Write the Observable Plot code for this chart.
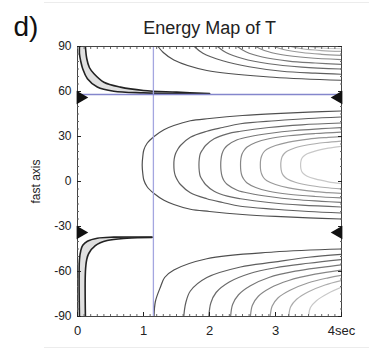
<!DOCTYPE html>
<html>
<head>
<meta charset="utf-8">
<script src="https://cdn.jsdelivr.net/npm/d3@7"></script>
<script src="https://cdn.jsdelivr.net/npm/@observablehq/plot@0.6"></script>
<style>
  html, body { margin: 0; padding: 0; background: #fff; }
  #chart { position: relative; width: 369px; height: 350px; font-family: "Liberation Sans", Arial, sans-serif; }
  #chart .edge { position: absolute; left: 44px; right: 0; height: 0; border-top: 1px solid #ececec; }
  #chart svg { position: absolute; left: 0; top: 0; }
</style>
</head>
<body>
<div id="chart"><div class="edge" style="top:2px"></div><div class="edge" style="top:347px"></div></div>
<script>
// Energy map of the splitting parameters: delay time (sec) vs fast-axis azimuth (deg).
// Each contour is a list of [delay, azimuth] points.

// Contours around the energy minimum (outer to inner)
const middleSet = [
  [[4,47],[3.5,46.2],[3,45.3],[2.5,44],[2,42],[1.71,40.5],[1.46,37.3],[1.31,34.5],[1.16,30],[1.055,25.5],[1.005,21],[0.99,17],[0.98,11],[0.99,5],[1.005,1],[1.055,-3.5],[1.16,-8],[1.31,-12.5],[1.46,-15.3],[1.71,-18.5],[2,-20],[2.5,-22],[3,-23.3],[3.5,-24.2],[4,-25]],
  [[4,43],[3.5,42],[3,40.5],[2.47,38.5],[2.2,36],[1.96,33.5],[1.71,29.5],[1.56,24],[1.52,21.5],[1.485,18.5],[1.465,15],[1.46,11],[1.465,7],[1.485,3.5],[1.52,0.5],[1.56,-2],[1.71,-7.5],[1.96,-11.5],[2.2,-14],[2.47,-16.5],[3,-18.5],[3.5,-20],[4,-21]],
  [[4,39],[3.4,37.8],[2.9,36],[2.47,33.5],[2.27,31.8],[2.07,28.5],[1.94,24],[1.9,21.5],[1.86,18.5],[1.845,15],[1.84,11],[1.845,7],[1.86,3.5],[1.9,0.5],[1.94,-2],[2.07,-6.5],[2.27,-9.8],[2.47,-11.5],[2.9,-14],[3.4,-15.8],[4,-17]],
  [[4,36],[3.7,35.2],[3.3,34],[2.9,32],[2.62,30],[2.42,27.8],[2.27,24],[2.22,21.5],[2.19,18.5],[2.175,15],[2.17,11],[2.175,7],[2.19,3.5],[2.22,0.5],[2.27,-2],[2.42,-5.8],[2.62,-8],[2.9,-10],[3.3,-12],[3.7,-13.2],[4,-14]],
  [[4,33],[3.6,32],[3.2,30.5],[2.9,28.5],[2.7,26],[2.57,23],[2.52,20.5],[2.49,18],[2.475,15],[2.47,11],[2.475,7],[2.49,4],[2.52,1.5],[2.57,-1],[2.7,-4],[2.9,-6.5],[3.2,-8.5],[3.6,-10],[4,-11]],
  [[4,30],[3.8,29.4],[3.5,28.3],[3.2,26.3],[3.0,24],[2.87,21.5],[2.82,19.5],[2.79,17],[2.775,14.5],[2.77,11],[2.775,7.5],[2.79,5],[2.82,2.5],[2.87,0.5],[3.0,-2],[3.2,-4.3],[3.5,-6.3],[3.8,-7.4],[4,-8]],
  [[4,27],[3.75,26],[3.5,24.5],[3.3,22.5],[3.18,20.3],[3.13,18.5],[3.1,16.5],[3.085,14],[3.08,11],[3.085,8],[3.1,5.5],[3.13,3.5],[3.18,1.7],[3.3,-0.5],[3.5,-2.5],[3.75,-4],[4,-5]],
  [[4,23.5],[3.8,22.2],[3.6,20.3],[3.48,18.5],[3.43,17],[3.4,15.5],[3.385,13.5],[3.38,11],[3.385,8.5],[3.4,6.5],[3.43,5],[3.48,3.5],[3.6,1.7],[3.8,-0.2],[4,-1.5]]
];

// Contours rising from the lower edge
const bottomSet = [
  [[1.16,-90],[1.18,-80],[1.26,-70],[1.32,-64],[1.46,-59],[1.96,-51.5],[2.97,-47],[4,-45]],
  [[1.61,-90],[1.64,-81],[1.71,-73],[1.96,-64],[2.47,-57],[2.97,-53.8],[3.5,-50.5],[4,-48.5]],
  [[1.99,-90],[2.02,-81],[2.1,-74],[2.3,-67],[2.6,-61.5],[3.0,-57.5],[3.5,-54.5],[4,-52]],
  [[2.32,-90],[2.35,-82],[2.44,-75.5],[2.62,-69.5],[2.9,-64],[3.3,-59.8],[3.7,-57.2],[4,-55.5]],
  [[2.62,-90],[2.65,-82.5],[2.74,-76.5],[2.92,-71],[3.2,-66],[3.6,-61.8],[4,-59]],
  [[2.92,-90],[2.95,-83],[3.04,-77.5],[3.22,-72.5],[3.5,-67.5],[3.8,-64.2],[4,-62.5]],
  [[3.2,-90],[3.23,-83.5],[3.32,-78.5],[3.5,-73.5],[3.75,-69],[4,-66]],
  [[3.5,-90],[3.53,-84],[3.62,-79.5],[3.8,-74.5],[4,-70.5]]
];

// Contours falling from the upper edge (the same basin, wrapped by 180 deg)
const topSet = [
  [[1.22,90],[1.3,86],[1.46,81],[1.96,74],[2.97,69.5],[4,67.5]],
  [[1.77,90],[1.9,85.5],[2.2,80.5],[2.6,76.5],[3.1,73.5],[3.6,72.2],[4,71.5]],
  [[2.12,90],[2.25,86],[2.5,82],[2.9,78.5],[3.4,76.3],[4,75]],
  [[2.42,90],[2.55,86.5],[2.8,83],[3.2,80.3],[3.6,79],[4,78]],
  [[2.7,90],[2.83,87.3],[3.1,84.5],[3.5,82.5],[4,81.3]],
  [[2.97,90],[3.12,88],[3.4,86],[3.7,84.8],[4,84]],
  [[3.23,90],[3.4,88.5],[3.7,87.3],[4,86.7]],
  [[3.48,90],[3.7,89],[4,88.5]]
];

// Confidence band near zero delay (upper): outer and inner boundary
const bandTopOuter = [[0.03,90],[0.03,85],[0.05,80],[0.08,75],[0.15,68.5],[0.3,63],[0.55,60.2],[1.0,59.1],[1.5,58.6],[2.0,58.5]];
const bandTopInner = [[0.12,90],[0.14,82],[0.18,76],[0.25,71.8],[0.4,66.2],[0.65,62.9],[1.0,60.7],[1.5,59.6],[2.0,58.6]];
// Confidence band near zero delay (lower)
const bandBottomOuter = [[0.03,-90],[0.03,-52],[0.05,-46],[0.08,-42.5],[0.15,-39.8],[0.3,-37.8],[0.55,-37.1],[1.13,-37]];
const bandBottomInner = [[0.12,-90],[0.12,-60],[0.14,-52],[0.17,-48],[0.27,-42.7],[0.45,-39.3],[0.75,-37.8],[1.13,-37.3]];

// Best-fit delay and fast axis, and the fast/slow axis markers
const bestDelay = 1.15;
const bestFastAxis = 58;
const axisMarkers = [56, -34];

// Axes
const xTicks = [0, 1, 2, 3, 4];
const xTickLabels = ["0", "1", "2", "3", "4sec"];
const yTicks = [-90, -60, -30, 0, 30, 60, 90];
const yTickLabels = ["-90", "-60", "-30", "0", "30", "60", "90"];
const xMinorTicks = d3.range(0, 40.5, 1).map(v => v / 10);
const yMinorTicks = d3.range(-90, 91, 5);

// Contour shades, darkest (outermost) to lightest (innermost)
const contourShades = ["#4f4f4f", "#5e5e5e", "#6a6a6a", "#777", "#868686", "#999", "#adadad", "#c8c8c8"];

function toRows(set, offset) {
  const rows = [];
  set.forEach((pts, k) => pts.forEach(([t, phi]) => rows.push({k: k + offset, t, phi, shade: contourShades[k]})));
  return rows;
}
const asRows = pts => pts.map(([t, phi]) => ({t, phi}));
const ring = (outer, inner) => asRows(outer.concat(inner.slice().reverse()));

const contourRows = [...toRows(middleSet, 0), ...toRows(bottomSet, 100), ...toRows(topSet, 200)];

const plot = Plot.plot({
  width: 369,
  height: 350,
  marginLeft: 77,
  marginRight: 28,
  marginTop: 46,
  marginBottom: 34,
  style: {fontFamily: "Liberation Sans, Arial, sans-serif", fontSize: "13px", background: "transparent", color: "#222"},
  x: {domain: [0, 4]},
  y: {domain: [-90, 90]},
  marks: [
    // shaded confidence bands
    Plot.line(ring(bandTopOuter, bandTopInner), {x: "t", y: "phi", fill: "#e0e0e0", stroke: "none", curve: "catmull-rom", clip: true}),
    Plot.line(ring(bandBottomOuter, bandBottomInner), {x: "t", y: "phi", fill: "#e0e0e0", stroke: "none", curve: "catmull-rom", clip: true}),
    // energy contours
    Plot.line(contourRows, {x: "t", y: "phi", z: "k", stroke: "shade", strokeWidth: 1.2, curve: "catmull-rom", clip: true}),
    // band outlines
    Plot.line(asRows(bandTopOuter), {x: "t", y: "phi", stroke: "#222", strokeWidth: 1.6, curve: "catmull-rom", clip: true}),
    Plot.line(asRows(bandTopInner), {x: "t", y: "phi", stroke: "#222", strokeWidth: 1.6, curve: "catmull-rom", clip: true}),
    Plot.line(asRows(bandBottomOuter), {x: "t", y: "phi", stroke: "#222", strokeWidth: 1.6, curve: "catmull-rom", clip: true}),
    Plot.line(asRows(bandBottomInner), {x: "t", y: "phi", stroke: "#222", strokeWidth: 1.6, curve: "catmull-rom", clip: true}),
    // best-fit cross-hair
    Plot.ruleX([bestDelay], {stroke: "#a4a6e0", strokeWidth: 1.3}),
    Plot.ruleY([bestFastAxis], {stroke: "#8486cc", strokeWidth: 1.3}),
    Plot.frame({stroke: "#444"}),
    // minor ticks on all four sides
    Plot.axisX(xMinorTicks, {anchor: "bottom", tickSize: -2, tickFormat: () => "", label: null, stroke: "#666"}),
    Plot.axisX(xMinorTicks, {anchor: "top", tickSize: -2, tickFormat: () => "", label: null, stroke: "#666"}),
    Plot.axisY(yMinorTicks, {anchor: "left", tickSize: -2, tickFormat: () => "", label: null, stroke: "#666"}),
    Plot.axisY(yMinorTicks, {anchor: "right", tickSize: -2, tickFormat: () => "", label: null, stroke: "#666"}),
    // labelled ticks
    Plot.axisX(xTicks, {anchor: "bottom", tickSize: -4, tickPadding: 13, tickFormat: d => xTickLabels[xTicks.indexOf(d)], label: null, fontSize: 13}),
    Plot.axisY(yTicks, {anchor: "left", tickSize: -4, tickPadding: 10, tickFormat: d => yTickLabels[yTicks.indexOf(d)], label: "fast axis", labelAnchor: "center", labelOffset: 46, labelArrow: false, fontSize: 12}),
    Plot.axisY(yTicks, {anchor: "right", tickSize: -4, tickFormat: () => "", label: null}),
    // fast / slow axis markers
    Plot.dot(axisMarkers, {x: () => 0, y: d => d, symbol: "triangle", rotate: 90, r: 5, fill: "#111", stroke: "none", dx: 3}),
    Plot.dot(axisMarkers, {x: () => 4, y: d => d, symbol: "triangle", rotate: -90, r: 5, fill: "#111", stroke: "none", dx: -3}),
    // titles
    Plot.text(["Energy Map of T"], {frameAnchor: "top", dy: -13, lineAnchor: "bottom", fontSize: 18, fill: "#222"}),
    Plot.text(["d)"], {frameAnchor: "top-left", dx: -64, dy: -11, textAnchor: "start", lineAnchor: "bottom", fontSize: 28, fill: "#111"})
  ]
});
document.getElementById("chart").appendChild(plot);
</script>
</body>
</html>
